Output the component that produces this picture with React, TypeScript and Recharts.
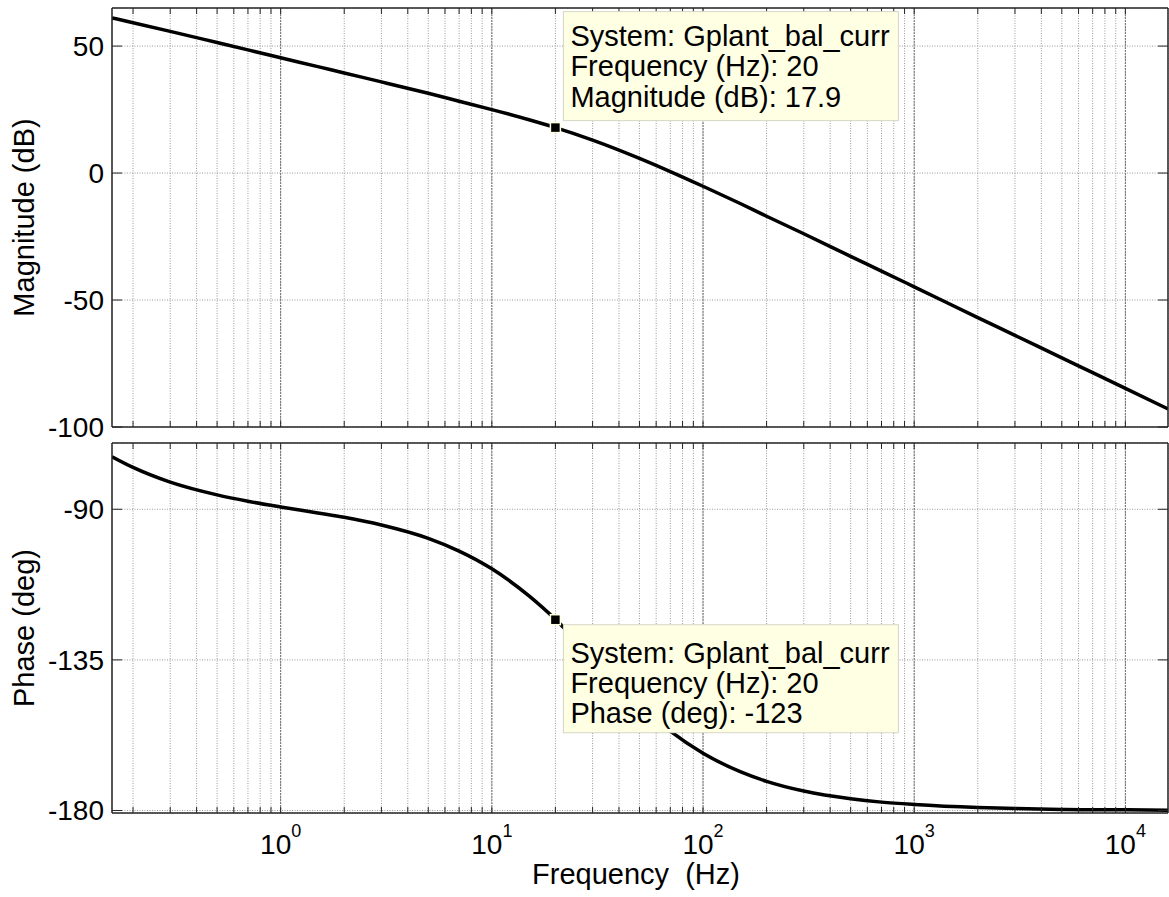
import React from 'react';
import {
  LineChart,
  Line,
  XAxis,
  YAxis,
  CartesianGrid,
  ReferenceDot,
  ReferenceLine,
} from 'recharts';

// ---- data ----
const frequencyHz = [
  0.159, 0.2, 0.3, 0.5, 0.7, 1, 1.5, 2, 3, 5, 7, 10, 15, 20, 30, 50, 70, 100, 150, 200, 300, 500,
  700, 1000, 2000, 3000, 5000, 7000, 10000, 15915,
];
const magnitudeDb = [
  61.1, 59.2, 55.8, 51.4, 48.5, 45.4, 41.9, 39.4, 35.9, 31.4, 28.3, 25.0, 21.0, 17.9, 13.0, 5.8,
  0.6, -5.2, -12.0, -17.0, -23.9, -32.8, -38.6, -44.8, -56.9, -63.9, -72.8, -78.6, -84.8, -92.9,
];
const phaseDeg = [
  -74.3, -77.5, -81.9, -85.7, -87.6, -89.3, -91.1, -92.4, -94.7, -98.7, -102.5, -107.8, -115.9,
  -122.9, -134.3, -148.4, -156.3, -162.9, -168.4, -171.3, -174.2, -176.5, -177.5, -178.2, -179.1,
  -179.4, -179.7, -179.8, -179.8, -179.9,
];

const decadeTicks = [1, 10, 100, 1000, 10000];
const decadeExponents = ['0', '1', '2', '3', '4'];
const minorMultipliers = [1, 2, 3, 4, 5, 6, 7, 8, 9];
const decadeBases = [0.1, 1, 10, 100, 1000, 10000];
const magTicks = [50, 0, -50, -100];
const phaseTicks = [-90, -135, -180];

const tipSystem = 'System: Gplant_bal_curr';
const tipFreq = 'Frequency (Hz): 20';
const tipMag = 'Magnitude (dB): 17.9';
const tipPhase = 'Phase (deg): -123';
const tipFreqValue = 20;
const tipMagValue = 17.9;
const tipPhaseValue = -123;

const FREQ_DOMAIN: [number, number] = [0.159, 15915];
const MAG_DOMAIN: [number, number] = [-100, 65];
const PHASE_DOMAIN: [number, number] = [-180.75, -70.2];

// ---- derived tables ----
const gridTicks = decadeBases
  .flatMap((b) => minorMultipliers.map((m) => +(b * m).toPrecision(3)))
  .filter((v) => v >= FREQ_DOMAIN[0] && v <= FREQ_DOMAIN[1]);

const magData = frequencyHz.map((f, i) => ({ f, v: magnitudeDb[i] }));
const phaseData = frequencyHz.map((f, i) => ({ f, v: phaseDeg[i] }));

const FONT = '"Liberation Sans", Arial, Helvetica, sans-serif';
const FRAME = '#262626';
const GRID = '#9a9a9a';
const TIP_BG = '#ffffe4';

const EmptyTick = () => <g />;

const XTick = (props: any) => {
  const { x, y, payload } = props;
  const idx = decadeTicks.indexOf(payload.value);
  const exp = idx >= 0 ? decadeExponents[idx] : '';
  return (
    <text x={x} y={y + 41} textAnchor="middle" fill="#000" fontFamily={FONT}>
      <tspan fontSize={28}>10</tspan>
      <tspan fontSize={18} dy={-17}>
        {exp}
      </tspan>
    </text>
  );
};

const DataTipTop = (props: any) => {
  const { cx, cy } = props;
  return (
    <g fontFamily={FONT}>
      <rect x={cx + 8} y={cy - 116} width={335} height={109} fill={TIP_BG} stroke="#d6d6c6" />
      <text x={cx + 15} y={cy - 82} fontSize={29} fill="#000">
        {tipSystem}
      </text>
      <text x={cx + 15} y={cy - 52} fontSize={29} fill="#000">
        {tipFreq}
      </text>
      <text x={cx + 15} y={cy - 21} fontSize={29} fill="#000">
        {tipMag}
      </text>
      <rect x={cx - 5} y={cy - 5} width={10} height={10} fill="#000" stroke={TIP_BG} strokeWidth={1.5} />
    </g>
  );
};

const DataTipBottom = (props: any) => {
  const { cx, cy } = props;
  return (
    <g fontFamily={FONT}>
      <rect x={cx + 8} y={cy + 5} width={335} height={108} fill={TIP_BG} stroke="#d6d6c6" />
      <text x={cx + 15} y={cy + 43} fontSize={29} fill="#000">
        {tipSystem}
      </text>
      <text x={cx + 15} y={cy + 73} fontSize={29} fill="#000">
        {tipFreq}
      </text>
      <text x={cx + 15} y={cy + 103} fontSize={29} fill="#000">
        {tipPhase}
      </text>
      <rect x={cx - 5} y={cy - 5} width={10} height={10} fill="#000" stroke={TIP_BG} strokeWidth={1.5} />
    </g>
  );
};

const yLabel = (text: string) => (props: any) => {
  const vb = props.viewBox || {};
  const cy = (vb.y || 0) + (vb.height || 0) / 2;
  return (
    <text
      x={34}
      y={cy}
      transform={`rotate(-90, 34, ${cy})`}
      textAnchor="middle"
      fontSize={29}
      fontFamily={FONT}
      fill="#000"
    >
      {text}
    </text>
  );
};

const xLabel = (props: any) => {
  const vb = props.viewBox || {};
  const cx = (vb.x || 0) + (vb.width || 0) / 2 - 4;
  return (
    <text
      x={cx}
      y={(vb.y || 0) + 71}
      textAnchor="middle"
      fontSize={29}
      fontFamily={FONT}
      fill="#000"
      style={{ whiteSpace: 'pre' }}
    >
      {'Frequency  (Hz)'}
    </text>
  );
};

function framingAxes(domainY: [number, number], yTicks: number[], label: string) {
  return [
    <XAxis
      key="xb"
      xAxisId="xb"
      dataKey="f"
      type="number"
      scale="log"
      domain={FREQ_DOMAIN}
      allowDataOverflow
      ticks={gridTicks}
      interval={0}
      orientation="bottom"
      mirror
      tick={<EmptyTick />}
      tickSize={6}
      axisLine={{ stroke: FRAME, strokeWidth: 1.5 }}
      tickLine={{ stroke: FRAME, strokeWidth: 1 }}
    />,
    <XAxis
      key="xt"
      xAxisId="xt"
      dataKey="f"
      type="number"
      scale="log"
      domain={FREQ_DOMAIN}
      allowDataOverflow
      ticks={gridTicks}
      interval={0}
      orientation="top"
      mirror
      tick={<EmptyTick />}
      tickSize={6}
      axisLine={{ stroke: FRAME, strokeWidth: 1.5 }}
      tickLine={{ stroke: FRAME, strokeWidth: 1 }}
    />,
    <YAxis
      key="yl"
      yAxisId="yl"
      type="number"
      domain={domainY}
      allowDataOverflow
      ticks={yTicks}
      interval={0}
      orientation="left"
      width={112}
      tickLine={false}
      tickSize={0}
      tickMargin={8}
      axisLine={{ stroke: FRAME, strokeWidth: 1.5 }}
      tick={{ fill: '#000', fontSize: 28, fontFamily: FONT }}
      label={{ content: yLabel(label) }}
    />,
    <YAxis
      key="ylm"
      yAxisId="ylm"
      type="number"
      domain={domainY}
      allowDataOverflow
      ticks={yTicks}
      interval={0}
      orientation="left"
      mirror
      tick={<EmptyTick />}
      tickSize={10}
      axisLine={false}
      tickLine={{ stroke: FRAME, strokeWidth: 1 }}
    />,
    <YAxis
      key="yr"
      yAxisId="yr"
      type="number"
      domain={domainY}
      allowDataOverflow
      ticks={yTicks}
      interval={0}
      orientation="right"
      mirror
      tick={<EmptyTick />}
      tickSize={10}
      axisLine={{ stroke: FRAME, strokeWidth: 1.5 }}
      tickLine={{ stroke: FRAME, strokeWidth: 1 }}
    />,
  ];
}

export default function App() {
  return (
    <div
      style={{
        position: 'absolute',
        left: 0,
        top: 0,
        width: 1169,
        height: 897,
        background: '#fff',
        overflow: 'hidden',
      }}
    >
      <div style={{ position: 'absolute', left: 0, top: 440 }}>
        <LineChart width={1169} height={457} data={phaseData} margin={{ top: 3, right: 1, bottom: 0, left: 0 }}>
          <CartesianGrid xAxisId="xb" yAxisId="yl" stroke={GRID} strokeDasharray="1 1.5" />
          {framingAxes(PHASE_DOMAIN, phaseTicks, 'Phase (deg)')}
          <XAxis
            xAxisId="xl"
            dataKey="f"
            type="number"
            scale="log"
            domain={FREQ_DOMAIN}
            allowDataOverflow
            ticks={decadeTicks}
            orientation="bottom"
            height={84}
            tickSize={0}
            tickMargin={0}
            tickLine={false}
            axisLine={false}
            tick={<XTick />}
            interval={0}
            label={{ content: xLabel }}
          />
          {decadeTicks.map((d) => (
            <ReferenceLine key={d} xAxisId="xb" yAxisId="yl" x={d} stroke="#707070" strokeDasharray="2 1" />
          ))}
          <Line
            xAxisId="xb"
            yAxisId="yl"
            dataKey="v"
            type="monotone"
            stroke="#000"
            strokeWidth={3.5}
            dot={false}
            isAnimationActive={false}
          />
          <ReferenceDot xAxisId="xb" yAxisId="yl" x={tipFreqValue} y={tipPhaseValue} shape={DataTipBottom} />
        </LineChart>
      </div>
      <div style={{ position: 'absolute', left: 0, top: 0 }}>
        <LineChart width={1169} height={460} data={magData} margin={{ top: 8, right: 1, bottom: 33, left: 0 }}>
          <CartesianGrid xAxisId="xb" yAxisId="yl" stroke={GRID} strokeDasharray="1 1.5" />
          {framingAxes(MAG_DOMAIN, magTicks, 'Magnitude (dB)')}
          {decadeTicks.map((d) => (
            <ReferenceLine key={d} xAxisId="xb" yAxisId="yl" x={d} stroke="#707070" strokeDasharray="2 1" />
          ))}
          <Line
            xAxisId="xb"
            yAxisId="yl"
            dataKey="v"
            type="monotone"
            stroke="#000"
            strokeWidth={3.5}
            dot={false}
            isAnimationActive={false}
          />
          <ReferenceDot xAxisId="xb" yAxisId="yl" x={tipFreqValue} y={tipMagValue} shape={DataTipTop} />
        </LineChart>
      </div>
    </div>
  );
}
